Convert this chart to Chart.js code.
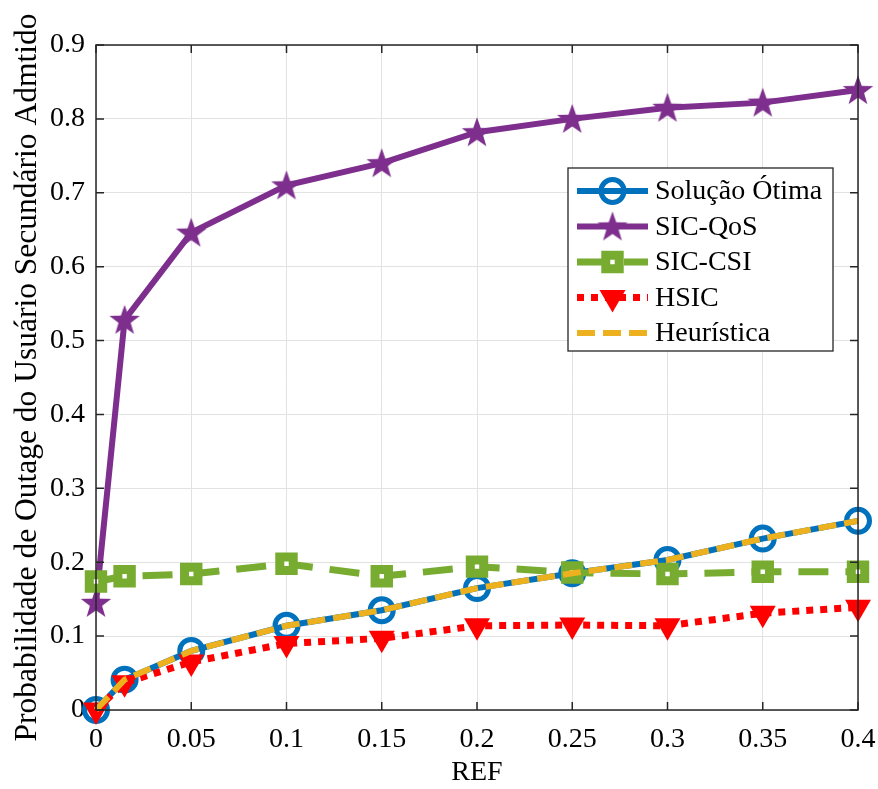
<!DOCTYPE html>
<html>
<head>
<meta charset="utf-8">
<script src="https://cdn.jsdelivr.net/npm/chart.js@4.4.1/dist/chart.umd.min.js"></script>
<style>
html,body{margin:0;padding:0;background:#fff;}
#wrap{width:878px;height:789px;}
</style>
</head>
<body>
<div id="wrap"><canvas id="chart" width="878" height="789"></canvas></div>
<script>
// REF values on the x axis
const refValues=[0,0.015,0.05,0.1,0.15,0.2,0.25,0.3,0.35,0.4];

// outage probability for each scheme
const solucaoOtima=[0,0.041,0.080,0.114,0.135,0.165,0.185,0.203,0.232,0.256];
const sicQos=[0.145,0.528,0.646,0.710,0.740,0.782,0.800,0.815,0.822,0.839];
const sicCsi=[0.174,0.181,0.184,0.198,0.181,0.194,0.186,0.184,0.187,0.187];
const hsic=[0,0.037,0.065,0.090,0.097,0.114,0.115,0.114,0.131,0.139];
const heuristica=[0,0.041,0.080,0.114,0.135,0.165,0.185,0.203,0.232,0.256];

const xTicks=[0,0.05,0.1,0.15,0.2,0.25,0.3,0.35,0.4];
const yTicks=[0,0.1,0.2,0.3,0.4,0.5,0.6,0.7,0.8,0.9];

const FONT='"Liberation Serif", "Times New Roman", serif';
const AXIS='#262626';

function pts(arr){return refValues.map((x,i)=>({x,y:arr[i]}));}

// filled pentagram used as marker
function starImage(r,color){
    const c=document.createElement('canvas');
    c.width=c.height=Math.ceil(r*2+2);
    const g=c.getContext('2d');
    g.fillStyle=color;
    g.beginPath();
    for(let i=0;i<10;i++){
        const rr=i%2?r*0.4:r;
        const a=-Math.PI/2+i*Math.PI/5;
        g.lineTo(c.width/2+rr*Math.cos(a),c.height/2+rr*Math.sin(a)+1);
    }
    g.closePath();
    g.fill();
    return c;
}
const star=starImage(16,'#7E2F8E');

// box around the plot with inward ticks on all four sides
const boxTicks={
    id:'boxTicks',
    afterDraw(chart){
        const {ctx,chartArea:a,scales}=chart;
        ctx.save();
        ctx.strokeStyle=AXIS;
        ctx.lineWidth=1.5;
        ctx.strokeRect(a.left,a.top,a.right-a.left,a.bottom-a.top);
        ctx.beginPath();
        scales.x.ticks.forEach(t=>{
            const px=scales.x.getPixelForValue(t.value);
            ctx.moveTo(px,a.bottom);ctx.lineTo(px,a.bottom-8);
            ctx.moveTo(px,a.top);ctx.lineTo(px,a.top+8);
        });
        scales.y.ticks.forEach(t=>{
            const py=scales.y.getPixelForValue(t.value);
            ctx.moveTo(a.left,py);ctx.lineTo(a.left+8,py);
            ctx.moveTo(a.right,py);ctx.lineTo(a.right-8,py);
        });
        ctx.stroke();
        ctx.restore();
    }
};

// legend drawn inside the plot area
const boxLegend={
    id:'boxLegend',
    afterDraw(chart){
        const {ctx,chartArea:a}=chart;
        const w=265,h=183,rowH=35.5;
        const x0=a.right-25-w,y0=a.top+123;
        ctx.save();
        ctx.fillStyle='#fff';
        ctx.fillRect(x0,y0,w,h);
        ctx.strokeStyle=AXIS;
        ctx.lineWidth=1.3;
        ctx.strokeRect(x0,y0,w,h);
        chart.data.datasets.forEach((ds,i)=>{
            const cy=y0+23+i*rowH;
            const lx1=x0+9,lx2=x0+80;
            ctx.save();
            ctx.strokeStyle=ds.borderColor;
            ctx.lineWidth=ds.borderWidth;
            ctx.setLineDash(ds.borderDash||[]);
            ctx.lineCap='butt';
            ctx.beginPath();ctx.moveTo(lx1,cy);ctx.lineTo(lx2,cy);ctx.stroke();
            ctx.setLineDash([]);
            if(ds.pointRadius>0){
                ctx.fillStyle=ds.pointBackgroundColor;
                ctx.strokeStyle=ds.pointBorderColor;
                ctx.lineWidth=ds.pointBorderWidth;
                Chart.helpers.drawPoint(ctx,{pointStyle:ds.pointStyle,rotation:ds.pointRotation||0,radius:ds.pointRadius,borderWidth:ds.pointBorderWidth},(lx1+lx2)/2,cy);
            }
            ctx.restore();
            ctx.fillStyle='#000';
            ctx.font='28px '+FONT;
            ctx.textBaseline='middle';
            ctx.fillText(ds.label,x0+87,cy+1);
        });
        ctx.restore();
    }
};

const datasets=[
    {label:'Solução Ótima',data:pts(solucaoOtima),borderColor:'#0072BD',borderWidth:6,
     pointStyle:'circle',pointRadius:11.5,pointBorderWidth:5,pointBorderColor:'#0072BD',pointBackgroundColor:'rgba(0,0,0,0)',order:4},
    {label:'SIC-QoS',data:pts(sicQos),borderColor:'#7E2F8E',borderWidth:6,
     pointStyle:star,pointRadius:16,pointBorderWidth:0,pointBorderColor:'#7E2F8E',pointBackgroundColor:'#7E2F8E',order:3},
    {label:'SIC-CSI',data:pts(sicCsi),borderColor:'#77AC30',borderWidth:7,borderDash:[30,17],
     pointStyle:'rect',pointRadius:9.5,pointBorderWidth:9,pointBorderColor:'#77AC30',pointBackgroundColor:'#fff',order:2},
    {label:'HSIC',data:pts(hsic),borderColor:'#FF0000',borderWidth:7,borderDash:[7,7],
     pointStyle:'triangle',pointRotation:180,pointRadius:15,pointBorderWidth:0,pointBorderColor:'#FF0000',pointBackgroundColor:'#FF0000',order:1},
    {label:'Heurística',data:pts(heuristica),borderColor:'#EDB120',borderWidth:6,borderDash:[18,8],
     pointRadius:0,order:0}
];
datasets.forEach(d=>{d.tension=0;d.fill=false;d.clip=false;d.pointHoverRadius=d.pointRadius;});

new Chart(document.getElementById('chart'),{
    type:'line',
    data:{datasets},
    options:{
        responsive:false,
        animation:false,
        events:[],
        layout:{padding:{top:45,right:20,left:0,bottom:0}},
        plugins:{legend:{display:false},tooltip:{enabled:false}},
        scales:{
            x:{
                type:'linear',min:0,max:0.4,
                afterBuildTicks(s){s.ticks=xTicks.map(v=>({value:v}));},
                afterFit(s){s.height=79;s.paddingLeft=0;s.paddingRight=0;},
                ticks:{color:'#000',font:{family:FONT,size:28},padding:13,maxRotation:0,autoSkip:false,
                    callback:v=>String(Number(v.toFixed(2)))},
                grid:{color:'#e2e2e2',lineWidth:1,drawTicks:false},
                border:{display:false},
                title:{display:true,text:'REF',color:'#000',font:{family:FONT,size:28,lineHeight:1},padding:{top:0,bottom:2}}
            },
            y:{
                min:0,max:0.9,
                afterBuildTicks(s){s.ticks=yTicks.map(v=>({value:v}));},
                afterFit(s){s.width=96;s.paddingTop=0;s.paddingBottom=0;},
                ticks:{color:'#000',font:{family:FONT,size:28},padding:11,
                    callback:v=>String(Number(v.toFixed(1)))},
                grid:{color:'#e2e2e2',lineWidth:1,drawTicks:false},
                border:{display:false},
                title:{display:true,text:'Probabilidade de Outage do Usuário Secundário Admtido',color:'#000',
                    font:{family:FONT,size:31.5,lineHeight:1},padding:{top:12,bottom:0}}
            }
        }
    },
    plugins:[boxTicks,boxLegend]
});
</script>
</body>
</html>
